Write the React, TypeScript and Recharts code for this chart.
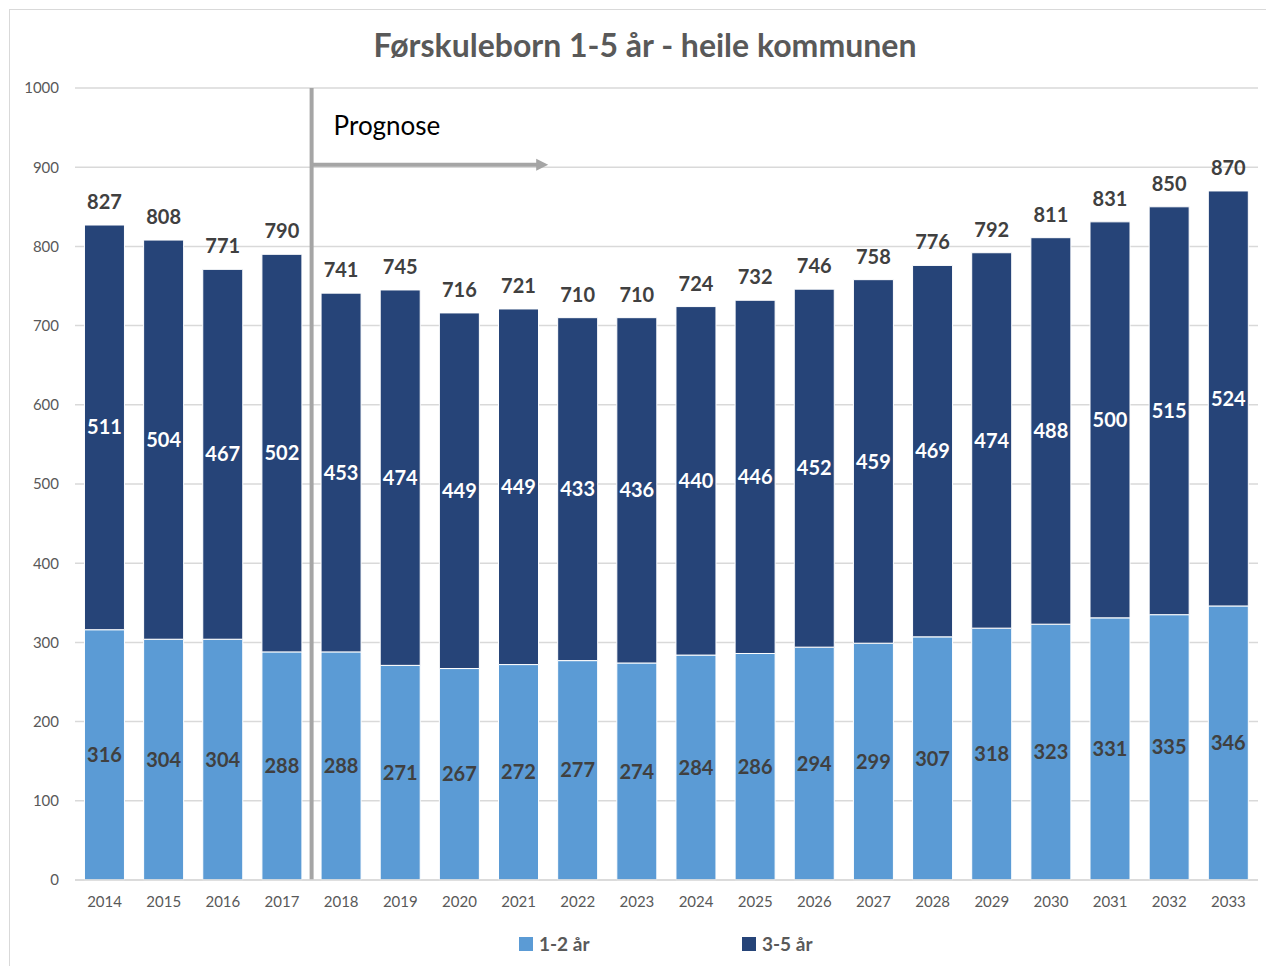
import { BarChart, Bar, XAxis, YAxis, CartesianGrid, LabelList, ReferenceLine } from 'recharts'

const YEARS = ['2014', '2015', '2016', '2017', '2018', '2019', '2020', '2021', '2022', '2023',
  '2024', '2025', '2026', '2027', '2028', '2029', '2030', '2031', '2032', '2033']
const AGE_1_2 = [316, 304, 304, 288, 288, 271, 267, 272, 277, 274, 284, 286, 294, 299, 307, 318, 323, 331, 335, 346]
const AGE_3_5 = [511, 504, 467, 502, 453, 474, 449, 449, 433, 436, 440, 446, 452, 459, 469, 474, 488, 500, 515, 524]
const Y_TICKS = [0, 100, 200, 300, 400, 500, 600, 700, 800, 900, 1000]

// prognosis starts at 2018, arrow runs to 2022
const PROGNOSE_START = '2018'
const PROGNOSE_ARROW_END = '2022'
const PROGNOSE_ARROW_Y = 903

const LIGHT = '#5B9BD5'
const DARK = '#264478'
const TEXT = '#595959'
const FONT = 'Lato, "Open Sans", sans-serif'

const data = YEARS.map((year, i) => ({
  year,
  young: AGE_1_2[i],
  old: AGE_3_5[i],
  total: AGE_1_2[i] + AGE_3_5[i]
}))

const labelStyle = { fontSize: 20, fontWeight: 700, fontFamily: FONT }

function ArrowShape(props: any) {
  const { x1, y1, x2, y2 } = props
  return (
    <g>
      <line x1={x1} y1={y1} x2={x2 - 10} y2={y2} stroke="#A5A5A5" strokeWidth={4} />
      <polygon points={`${x2},${y2} ${x2 - 12},${y2 - 6} ${x2 - 12},${y2 + 6}`} fill="#A5A5A5" />
      <text x={x1 + 22} y={y1 - 30} fontSize={26} fontFamily={FONT} fill="#000">
        Prognose
      </text>
    </g>
  )
}

export default function App() {
  return (
    <div style={{ position: 'absolute', left: 0, top: 0, width: 1266, height: 966, background: '#fff', fontFamily: FONT }}>
      <div
        style={{
          position: 'absolute',
          left: 9,
          top: 9,
          width: 1266,
          height: 966,
          border: '1px solid #D9D9D9',
          boxSizing: 'border-box'
        }}
      />
      <div
        style={{
          position: 'absolute',
          left: 0,
          width: 1290,
          top: 25,
          textAlign: 'center',
          fontSize: 32,
          fontWeight: 700,
          color: TEXT
        }}
      >
        Førskuleborn 1-5 år - heile kommunen
      </div>
      <div style={{ position: 'absolute', left: 0, top: 0 }}>
        <BarChart
          width={1266}
          height={966}
          data={data}
          margin={{ top: 88, right: 8, left: 0, bottom: 56 }}
          barCategoryGap="16%"
        >
          <CartesianGrid vertical={false} stroke="#D9D9D9" strokeWidth={1.5} />
          <XAxis
            dataKey="year"
            height={30}
            axisLine={{ stroke: '#D9D9D9', strokeWidth: 1.5 }}
            tickLine={false}
            tickSize={0}
            tickMargin={16}
            tick={{ fill: TEXT, fontSize: 15, fontFamily: FONT }}
            interval={0}
          />
          <YAxis
            width={75}
            domain={[0, 1000]}
            ticks={Y_TICKS}
            axisLine={false}
            tickLine={false}
            tickSize={0}
            tickMargin={16}
            tick={{ fill: TEXT, fontSize: 15, fontFamily: FONT }}
          />
          <Bar dataKey="young" stackId="a" fill={LIGHT} stroke="#FFFFFF" strokeWidth={1} isAnimationActive={false}>
            <LabelList dataKey="young" position="center" fill="#404040" style={labelStyle} />
          </Bar>
          <Bar dataKey="old" stackId="a" fill={DARK} stroke="#FFFFFF" strokeWidth={1} isAnimationActive={false}>
            <LabelList dataKey="old" position="center" fill="#FFFFFF" style={labelStyle} />
            <LabelList dataKey="total" position="top" offset={16} fill="#404040" style={labelStyle} />
          </Bar>
          <ReferenceLine x={PROGNOSE_START} position="start" stroke="#A5A5A5" strokeWidth={4} ifOverflow="visible" />
          <ReferenceLine
            segment={[
              { x: PROGNOSE_START, y: PROGNOSE_ARROW_Y },
              { x: PROGNOSE_ARROW_END, y: PROGNOSE_ARROW_Y }
            ]}
            position="start"
            ifOverflow="visible"
            shape={ArrowShape}
          />
        </BarChart>
      </div>
      <div
        style={{
          position: 'absolute',
          top: 932,
          left: 519,
          display: 'flex',
          alignItems: 'center',
          fontSize: 19,
          fontWeight: 700,
          color: TEXT
        }}
      >
        <span style={{ display: 'inline-block', width: 14, height: 14, background: LIGHT, marginRight: 6 }} />
        <span style={{ width: 203 }}>1-2 år</span>
        <span style={{ display: 'inline-block', width: 14, height: 14, background: DARK, marginRight: 6 }} />
        <span>3-5 år</span>
      </div>
    </div>
  )
}
